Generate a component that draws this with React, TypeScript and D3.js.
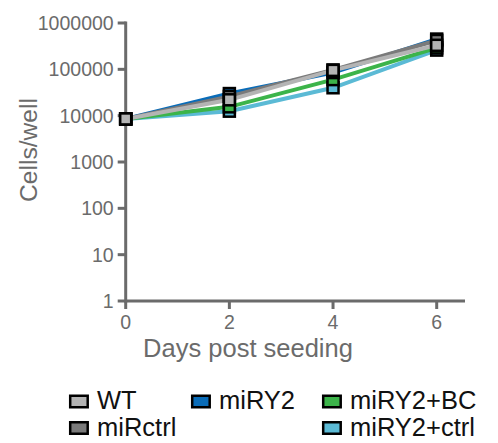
import React from "react";
import * as d3 from "d3";

const days = [0, 2, 4, 6];
const xTicks = [0, 2, 4, 6];
const yTicks = [1, 10, 100, 1000, 10000, 100000, 1000000];

const seriesColors = ["#5bbad5", "#3cb44a", "#0a6cb8", "#7a7a7a", "#b4b4b4"];
const valWT = [8500, 22000, 95000, 330000];
const valMiRctrl = [8500, 26000, 97000, 420000];
const valMiRY2 = [8500, 30000, 85000, 450000];
const valMiRY2BC = [8500, 15500, 60000, 290000];
const valMiRY2ctrl = [8500, 12500, 40000, 260000];
const seriesValues = [valMiRY2ctrl, valMiRY2BC, valMiRY2, valMiRctrl, valWT];

const legendItems = [
  { name: "WT", color: "#b4b4b4", col: 0, row: 0 },
  { name: "miRctrl", color: "#7a7a7a", col: 0, row: 1 },
  { name: "miRY2", color: "#0a6cb8", col: 1, row: 0 },
  { name: "miRY2+BC", color: "#3cb44a", col: 2, row: 0 },
  { name: "miRY2+ctrl", color: "#5bbad5", col: 2, row: 1 },
];

const W = 498;
const H = 443;
const axisColor = "#6b6b6b";
const font = "'Liberation Sans', Arial, Helvetica, sans-serif";

export default function App() {
  const x = d3.scaleLinear().domain([0, 6]).range([125.7, 436.7]);
  const y = d3.scaleLog().domain([1, 1e6]).range([301, 23]);
  const line = d3
    .line<number>()
    .x((_, i) => x(days[i]))
    .y((d) => y(d));
  const xEnd = 465;
  const legendX = [69, 191, 322];
  const legendY = [401.5, 428];
  const ms = 11;

  return (
    <div style={{ position: "fixed", left: 0, top: 0 }}>
      <svg width={W} height={H} style={{ display: "block", background: "#fff" }} fontFamily={font}>
        {/* axes */}
        <line x1={x(0)} x2={xEnd} y1={y(1)} y2={y(1)} stroke={axisColor} strokeWidth={3} />
        <line x1={x(0)} x2={x(0)} y1={y(1e6) - 1.5} y2={y(1) + 1.5} stroke={axisColor} strokeWidth={3} />
        {yTicks.map((t) => (
          <g key={"y" + t}>
            <line x1={x(0) - 8} x2={x(0)} y1={y(t)} y2={y(t)} stroke={axisColor} strokeWidth={3} />
            <text x={x(0) - 12} y={y(t)} dy="0.36em" textAnchor="end" fontSize={19.5} fill={axisColor}>
              {d3.format("d")(t)}
            </text>
          </g>
        ))}
        {xTicks.map((t) => (
          <g key={"x" + t}>
            <line x1={x(t)} x2={x(t)} y1={y(1)} y2={y(1) + 8} stroke={axisColor} strokeWidth={3} />
            <text x={x(t)} y={329} textAnchor="middle" fontSize={19.5} fill={axisColor}>
              {t}
            </text>
          </g>
        ))}
        <text x={248} y={357} textAnchor="middle" fontSize={25.5} fill={axisColor}>
          Days post seeding
        </text>
        <text
          transform={`translate(36.5,150) rotate(-90)`}
          textAnchor="middle"
          fontSize={24.6}
          fill={axisColor}
        >
          Cells/well
        </text>
        {/* lines */}
        {seriesValues.map((vals, si) => (
          <path key={"l" + si} d={line(vals) || ""} fill="none" stroke={seriesColors[si]} strokeWidth={4} />
        ))}
        {/* markers */}
        {seriesValues.map((vals, si) => (
          <g key={"m" + si}>
            {vals.map((v, i) => (
              <rect
                key={i}
                x={x(days[i]) - ms / 2}
                y={y(v) - ms / 2}
                width={ms}
                height={ms}
                fill={seriesColors[si]}
                stroke="#000"
                strokeWidth={2.5}
              />
            ))}
          </g>
        ))}
        {/* legend */}
        {legendItems.map((it) => (
          <g key={it.name}>
            <rect
              x={legendX[it.col] + 1.2}
              y={legendY[it.row] - 5.75}
              width={17.5}
              height={11.5}
              fill={it.color}
              stroke="#000"
              strokeWidth={2.5}
            />
            <text x={legendX[it.col] + 28} y={legendY[it.row] + 7.5} fontSize={25.5} fill="#111">
              {it.name}
            </text>
          </g>
        ))}
      </svg>
    </div>
  );
}
